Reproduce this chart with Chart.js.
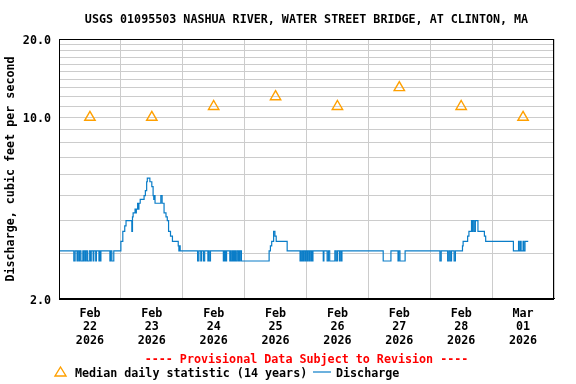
<!DOCTYPE html>
<html>
<head>
<meta charset="utf-8">
<script src="https://cdn.jsdelivr.net/npm/chart.js@4/dist/chart.umd.min.js"></script>
<style>
html,body{margin:0;padding:0;background:#fff;}
#wrap{width:576px;height:384px;}
</style>
</head>
<body>
<div id="wrap"><canvas id="c" width="576" height="384"></canvas></div>
<script>
// ---- data (hours since Feb 22 2026 00:00) ----
const chartTitle = "USGS 01095503 NASHUA RIVER, WATER STREET BRIDGE, AT CLINTON, MA";
const yAxisTitle = "Discharge, cubic feet per second";
const provisionalText = "---- Provisional Data Subject to Revision ----";
const dayTickLabels = [
  ["Feb","22","2026"],["Feb","23","2026"],["Feb","24","2026"],["Feb","25","2026"],
  ["Feb","26","2026"],["Feb","27","2026"],["Feb","28","2026"],["Mar","01","2026"]
];
const yTickValues = [2,3,4,5,6,7,8,9,10,11,12,13,14,15,16,17,18,19,20];
const yTickLabelled = [2,10,20];

const medianHours = [12,36,60,84,108,132,156,180];
const medianCfs   = [10,10,11,12,11,13,11,10];

const dischargeHours = [
  0,5.75,6.25,7,7.25,7.75,8,8.5,9.25,9.5,9.75,10.25,10.5,11,11.75,12.25,12.5,13.25,13.5,14.25,14.5,15.5,15.75,16,16.25,19.75,20,20.5,21.25,
  24,24.75,25.5,26,28.25,28.5,28.75,29.5,29.75,30,30.5,30.75,31,31.5,33,33.5,34,34.25,35.25,36,36.5,36.75,37,37.25,39.5,40,40.75,41.5,42,42.5,43.25,44,46.25,46.5,46.75,47,
  53.75,54.25,55,55.25,56,56.5,57.75,58,58.25,58.75,63.75,64,64.25,64.5,64.75,65,66.25,66.5,66.75,67.25,67.5,67.75,68,68.25,68.5,69,69.5,69.75,70,70.25,70.75,
  81.5,82,82.5,83.25,83.75,84.25,88.5,
  93.5,93.75,94,94.5,94.75,95,95.5,95.75,96.25,96.5,97,97.25,97.75,98,98.25,98.5,
  102.5,102.75,104,104.5,105,107,107.5,108,108.75,109,109.5,109.75,
  125.75,128.75,131.5,131.75,132.25,134.25,
  147.75,148.25,150.75,151.25,151.75,152.25,153.25,153.75,
  156.5,156.75,158.5,159,160,160.25,160.5,161,161.5,162.5,165,165.5,176.25,178.25,178.5,179,179.25,180,180.25,180.75,182
];
const dischargeCfs = [
  3.06,2.8,3.06,2.8,3.06,2.8,3.06,2.8,3.06,2.8,3.06,2.8,3.06,2.8,3.06,2.8,3.06,2.8,3.06,2.8,3.06,2.8,3.06,2.8,3.06,2.8,3.06,2.8,3.06,
  3.33,3.64,3.82,4.0,3.64,4.14,4.29,4.43,4.29,4.43,4.67,4.43,4.67,4.83,5.0,5.22,5.65,5.83,5.65,5.41,5.0,4.83,5.0,4.67,5.0,4.67,4.29,4.14,4.0,3.64,3.49,3.33,3.2,3.06,3.2,3.06,
  2.8,3.06,2.8,3.06,2.8,3.06,2.8,3.06,2.8,3.06,2.8,3.06,2.8,3.06,2.8,3.06,2.8,3.06,2.8,3.06,2.8,3.06,2.8,3.06,2.8,3.06,2.8,3.06,2.8,3.06,2.8,
  3.06,3.2,3.33,3.64,3.49,3.33,3.06,
  2.8,3.06,2.8,3.06,2.8,3.06,2.8,3.06,2.8,3.06,2.8,3.06,2.8,3.06,2.8,3.06,
  2.8,3.06,2.8,3.06,2.8,3.06,2.8,3.06,2.8,3.06,2.8,3.06,
  2.8,3.06,2.8,3.06,2.8,3.06,
  2.8,3.06,2.8,3.06,2.8,3.06,2.8,3.06,
  3.2,3.33,3.49,3.64,4.0,3.64,4.0,3.64,4.0,3.64,3.49,3.33,3.06,3.33,3.06,3.33,3.06,3.33,3.06,3.33,3.33
];

const legendMedianLabel = "Median daily statistic (14 years)";
const legendDischargeLabel = "Discharge";

// ---- styles ----
const FONT_FAMILY = "'DejaVu Sans Mono', 'Liberation Mono', monospace";
const baseFont = {family: FONT_FAMILY, size: 11.7, weight: 'bold', lineHeight: 1.2};
const ORANGE = '#FFA000';
const BLUE = '#0A7DC8';
const GRID = '#CCCCCC';

const boxPlugin = {
  id: 'boxAndLegend',
  afterDraw(chart) {
    const {ctx, chartArea: a} = chart;
    ctx.save();
    ctx.strokeStyle = '#000';
    ctx.lineWidth = 1;
    ctx.strokeRect(Math.round(a.left) + 0.5, Math.round(a.top) + 0.5,
                   Math.round(a.right - a.left) - 1, Math.round(a.bottom - a.top));
    // legend
    const ly = 372;
    ctx.strokeStyle = ORANGE;
    ctx.lineWidth = 1.4;
    ctx.beginPath();
    ctx.moveTo(60.5, ly - 5);
    ctx.lineTo(66, ly + 4);
    ctx.lineTo(55, ly + 4);
    ctx.closePath();
    ctx.stroke();
    ctx.font = "bold 11.7px " + FONT_FAMILY;
    ctx.fillStyle = '#000';
    ctx.textBaseline = 'middle';
    ctx.textAlign = 'left';
    ctx.fillText(legendMedianLabel, 75, ly + 2);
    ctx.strokeStyle = BLUE;
    ctx.lineWidth = 1.2;
    ctx.beginPath();
    ctx.moveTo(313, ly);
    ctx.lineTo(331, ly);
    ctx.stroke();
    ctx.fillText(legendDischargeLabel, 336, ly + 2);
    ctx.restore();
  }
};

new Chart(document.getElementById('c'), {
  type: 'line',
  data: {
    datasets: [
      {
        label: legendMedianLabel,
        data: medianHours.map((h, i) => ({x: h, y: medianCfs[i]})),
        showLine: false,
        pointStyle: 'triangle',
        pointRadius: 6,
        pointBorderColor: ORANGE,
        pointBackgroundColor: 'rgba(0,0,0,0)',
        pointBorderWidth: 1.4,
        borderColor: ORANGE
      },
      {
        label: legendDischargeLabel,
        data: dischargeHours.map((h, i) => ({x: h, y: dischargeCfs[i]})),
        stepped: true,
        borderColor: BLUE,
        borderWidth: 1.2,
        pointRadius: 0,
        fill: false
      }
    ]
  },
  options: {
    responsive: false,
    animation: false,
    devicePixelRatio: 1,
    layout: {padding: {left: 0, right: 22, top: 0, bottom: 17}},
    plugins: {
      legend: {display: false},
      tooltip: {enabled: false},
      title: {
        display: true, text: chartTitle, color: '#000', fullSize: false,
        font: baseFont, padding: {top: 13, bottom: 12}
      },
      subtitle: {
        display: true, text: provisionalText, color: '#FF0000', fullSize: false,
        position: 'bottom', weight: 500,
        font: baseFont, padding: {top: 2, bottom: 0}
      }
    },
    scales: {
      x: {
        type: 'linear', min: 0, max: 192,
        afterBuildTicks(scale) {
          const t = [];
          for (let v = 0; v <= 192; v += 12) t.push({value: v});
          scale.ticks = t;
        },
        afterFit(scale) { scale.height = 52; },
        grid: {
          color: (c) => (c.tick && c.tick.value % 24 === 0) ? GRID : 'rgba(0,0,0,0)',
          drawTicks: false, lineWidth: 1
        },
        border: {display: true, color: '#000', width: 1},
        ticks: {
          autoSkip: false, maxRotation: 0, padding: 8, color: '#000',
          font: {family: FONT_FAMILY, size: 11.7, weight: 'bold', lineHeight: 1.154},
          callback: (v) => (v % 24 === 12) ? dayTickLabels[(v - 12) / 24] : ''
        }
      },
      y: {
        type: 'logarithmic', min: 2, max: 20,
        afterBuildTicks(scale) {
          scale.ticks = yTickValues.map(v => ({value: v}));
        },
        afterFit(scale) { scale.width = 59; },
        grid: {color: GRID, drawTicks: false, lineWidth: 1},
        border: {display: true, color: '#000', width: 1},
        ticks: {
          autoSkip: false, padding: 8, color: '#000', labelOffset: 2,
          font: {family: FONT_FAMILY, size: 11.7, weight: 'bold'},
          callback: (v) => yTickLabelled.includes(v) ? Number(v).toFixed(1) : ''
        },
        title: {
          display: true, text: yAxisTitle, color: '#000',
          font: baseFont, padding: {top: 4, bottom: 5}
        }
      }
    }
  },
  plugins: [boxPlugin]
});
</script>
</body>
</html>
